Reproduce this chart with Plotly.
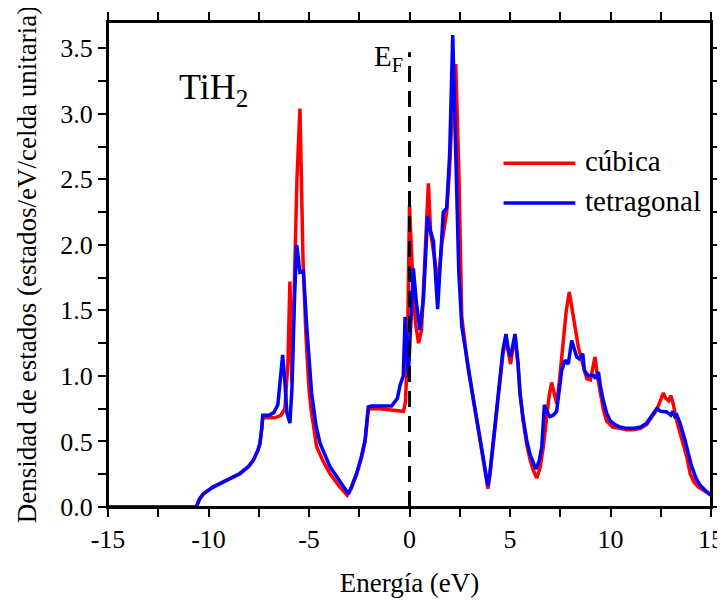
import plotly.graph_objects as go

# ---------------- data ----------------
cubic_E = [-15.0, -12.0, -10.6, -10.45, -10.26, -9.8, -9.26, -8.8, -8.43, -8.0, -7.77, -7.55, -7.44,
           -7.35, -7.30, -7.0, -6.7, -6.4, -6.2, -6.05, -5.95, -5.85, -5.75, -5.6, -5.45, -5.3, -5.15,
           -5.0, -4.9, -4.62, -4.3, -3.96, -3.5, -3.1, -2.9, -2.63, -2.4, -2.21, -2.05, -1.9, -1.5,
           -0.89, -0.5, -0.3, -0.2, -0.1, 0.0, 0.1, 0.2, 0.3, 0.45, 0.6, 0.75, 0.94, 1.05, 1.2,
           1.43, 1.6, 1.85, 2.0, 2.15, 2.3, 2.45, 2.6, 2.9, 3.2, 3.5, 3.75, 3.9, 4.0, 4.17, 4.35,
           4.5, 4.65, 4.8, 4.92, 5.03, 5.15, 5.25, 5.4, 5.5, 5.65, 5.83, 6.0, 6.16, 6.33, 6.5, 6.65,
           6.83, 6.95, 7.07, 7.2, 7.32, 7.45, 7.65, 7.8, 7.95, 8.1, 8.23, 8.4, 8.57, 8.7, 8.82, 9.0,
           9.1, 9.23, 9.35, 9.48, 9.65, 9.81, 10.1, 10.47, 10.8, 11.13, 11.5, 11.8, 12.05, 12.3,
           12.5, 12.63, 12.75, 12.9, 13.0, 13.1, 13.29, 13.45, 13.6, 13.8, 13.96, 14.15, 14.37,
           14.7, 15.0]
cubic_dos = [0.0, 0.0, 0.0, 0.06, 0.10, 0.15, 0.19, 0.225, 0.256, 0.31, 0.357, 0.43, 0.485,
             0.60, 0.68, 0.68, 0.68, 0.70, 0.75, 1.10, 1.72, 0.95, 1.50, 2.50, 3.04, 1.90, 1.30,
             0.90, 0.75, 0.46, 0.35, 0.256, 0.16, 0.09, 0.14, 0.25, 0.37, 0.50, 0.74, 0.75, 0.75,
             0.74, 0.73, 0.73, 0.80, 1.20, 2.30, 1.90, 1.60, 1.40, 1.25, 1.35, 1.90, 2.47, 2.10, 1.95,
             1.70, 2.00, 2.25, 2.60, 3.10, 3.38, 2.60, 1.45, 1.07, 0.80, 0.52, 0.27, 0.14, 0.24, 0.47, 0.74,
             0.97, 1.17, 1.28, 1.17, 1.09, 1.22, 1.30, 1.08, 0.86, 0.66, 0.48, 0.36, 0.28, 0.22, 0.30, 0.45,
             0.69, 0.85, 0.95, 0.85, 0.79, 0.95, 1.25, 1.50, 1.64, 1.50, 1.37, 1.22, 1.12, 1.04, 0.98, 0.97,
             1.06, 1.145, 1.00, 0.87, 0.74, 0.655, 0.61, 0.60, 0.59, 0.59, 0.60, 0.63, 0.68, 0.74,
             0.82, 0.87, 0.83, 0.81, 0.85, 0.80, 0.66, 0.57, 0.51, 0.38, 0.256, 0.19, 0.154,
             0.12, 0.09]

tetra_E = [-15.0, -12.0, -10.6, -10.45, -10.26, -9.8, -9.26, -8.8, -8.43, -8.0, -7.77, -7.55, -7.44,
           -7.35, -7.30, -7.0, -6.75, -6.55, -6.45, -6.31, -6.2, -6.1, -5.95, -5.85, -5.72, -5.61,
           -5.45, -5.28, -5.11, -4.95, -4.87, -4.65, -4.45, -3.96, -3.29, -3.04, -2.9, -2.63, -2.4,
           -2.21, -2.05, -1.9, -1.5, -0.89, -0.6, -0.47, -0.31, -0.22, -0.06, 0.19, 0.35, 0.52, 0.7,
           0.9, 1.05, 1.19, 1.40, 1.55, 1.68, 1.85, 2.0, 2.15, 2.3, 2.45, 2.6, 2.9, 3.2, 3.5, 3.75,
           3.9, 4.0, 4.17, 4.35, 4.5, 4.65, 4.8, 4.92, 5.03, 5.15, 5.25, 5.4, 5.5, 5.65, 5.83, 6.0,
           6.16, 6.29, 6.45, 6.58, 6.71, 6.85, 6.99, 7.15, 7.32, 7.45, 7.57, 7.74, 7.9, 8.07, 8.2,
           8.32, 8.45, 8.62, 8.7, 8.9, 9.15, 9.25, 9.4, 9.5, 9.64, 9.8, 9.98, 10.2, 10.47, 10.8,
           11.13, 11.5, 11.8, 12.05, 12.3, 12.5, 12.8, 13.0, 13.1, 13.2, 13.3, 13.46, 13.6, 13.71,
           13.85, 14.04, 14.25, 14.45, 14.7, 15.0]
tetra_dos = [0.0, 0.0, 0.0, 0.06, 0.10, 0.15, 0.19, 0.225, 0.256, 0.31, 0.357, 0.43, 0.485,
             0.60, 0.70, 0.70, 0.72, 0.78, 0.95, 1.16, 0.95, 0.72, 0.64, 0.90, 1.60, 2.00,
             1.79, 1.80, 1.37, 1.05, 0.87, 0.62, 0.485, 0.31, 0.154, 0.10, 0.15, 0.256, 0.38,
             0.51, 0.764, 0.77, 0.77, 0.77, 0.83, 0.93, 1.00, 1.45, 0.99, 1.82, 1.55, 1.35, 1.60,
             2.22, 2.10, 2.03, 1.51, 1.90, 2.25, 2.28, 2.70, 3.60, 2.60, 1.80, 1.38, 1.07, 0.80, 0.53, 0.29,
             0.16, 0.26, 0.50, 0.77, 0.99, 1.20, 1.32, 1.20, 1.145, 1.25, 1.32, 1.10, 0.87, 0.68, 0.51, 0.40,
             0.33, 0.29, 0.35, 0.46, 0.78, 0.72, 0.69, 0.70, 0.73, 0.90, 1.04, 1.12, 1.09, 1.27, 1.20,
             1.145, 1.13, 1.17, 1.04, 1.00, 1.005, 0.98, 1.03, 0.92, 0.815, 0.72, 0.66, 0.63, 0.61, 0.60,
             0.60, 0.61, 0.64, 0.69, 0.75, 0.73, 0.725, 0.70, 0.73, 0.69, 0.70, 0.64, 0.57, 0.51,
             0.42, 0.31, 0.22, 0.167, 0.13, 0.09]

series_names = ["cúbica", "tetragonal"]
series_colors = ["#ff0000", "#0000ff"]

x_tick_vals = [-15, -12.5, -10, -7.5, -5, -2.5, 0, 2.5, 5, 7.5, 10, 12.5, 15]
x_tick_text = ["-15", "", "-10", "", "-5", "", "0", "", "5", "", "10", "", "15"]
y_tick_vals = [0.0, 0.25, 0.5, 0.75, 1.0, 1.25, 1.5, 1.75, 2.0, 2.25, 2.5, 2.75, 3.0, 3.25, 3.5]
y_tick_text = ["0.0", "", "0.5", "", "1.0", "", "1.5", "", "2.0", "", "2.5", "", "3.0", "", "3.5"]

fermi_level = 0.0
fermi_top = 3.47
x_range = [-15, 15]
y_range = [0, 3.7]

FONT = "Liberation Serif, Times New Roman, serif"

# ---------------- figure ----------------
fig = go.Figure()
fig.add_trace(go.Scatter(x=cubic_E, y=cubic_dos, mode="lines", name=series_names[0],
                         line=dict(color=series_colors[0], width=3.5), showlegend=False))
fig.add_trace(go.Scatter(x=tetra_E, y=tetra_dos, mode="lines", name=series_names[1],
                         line=dict(color=series_colors[1], width=3.5), showlegend=False))
# Fermi level
fig.add_trace(go.Scatter(x=[fermi_level, fermi_level], y=[0, fermi_top], mode="lines",
                         line=dict(color="black", width=3, dash="16px,9px"), showlegend=False,
                         hoverinfo="skip"))

axis_common = dict(showline=True, mirror="allticks", linecolor="black", linewidth=2,
                   showgrid=False, zeroline=False, tickcolor="black", tickwidth=2,
                   ticks="outside", ticklen=8,
                   tickfont=dict(family=FONT, size=26, color="black"))

# the page adds an 8px body margin, so the figure is 8px smaller and margins 8px tighter
fig.update_layout(
    width=717, height=595,
    paper_bgcolor="white", plot_bgcolor="white",
    margin=dict(l=100, r=14, t=14, b=96, autoexpand=False),
    font=dict(family=FONT, color="black"),
    xaxis=dict(**axis_common, range=x_range, tickmode="array", tickvals=x_tick_vals,
               ticktext=x_tick_text,
               title=dict(text="Energía (eV)", font=dict(family=FONT, size=27), standoff=20)),
    yaxis=dict(**axis_common, range=y_range, tickmode="array", tickvals=y_tick_vals,
               ticktext=y_tick_text,
               title=dict(text="Densidad de estados (estados/eV/celda unitaria)",
                          font=dict(family=FONT, size=27), standoff=16)),
)

# plot frame
fig.add_shape(type="rect", xref="paper", yref="paper", x0=0, x1=1, y0=0, y1=1,
              line=dict(color="black", width=2), layer="above")

# legend (drawn by hand to match the long keys of the original)
legend_y = [0.709, 0.627]
for i, (name, col) in enumerate(zip(series_names, series_colors)):
    fig.add_shape(type="line", xref="paper", yref="paper", x0=0.656, x1=0.775,
                  y0=legend_y[i], y1=legend_y[i], line=dict(color=col, width=3.5))
    fig.add_annotation(text=name, xref="paper", yref="paper", x=0.787, y=legend_y[i] + 0.004,
                       xanchor="left", yanchor="middle", showarrow=False,
                       font=dict(family=FONT, size=29, color="black"))

fig.add_annotation(text="TiH<sub>2</sub>", xref="paper", yref="paper", x=0.114, y=0.86,
                   xanchor="left", yanchor="middle", showarrow=False,
                   font=dict(family=FONT, size=36, color="black"))
fig.add_annotation(text="E<sub>F</sub>", xref="paper", yref="paper", x=0.493, y=0.925,
                   xanchor="right", yanchor="middle", showarrow=False,
                   font=dict(family=FONT, size=29, color="black"))

fig.write_html("out.html")
